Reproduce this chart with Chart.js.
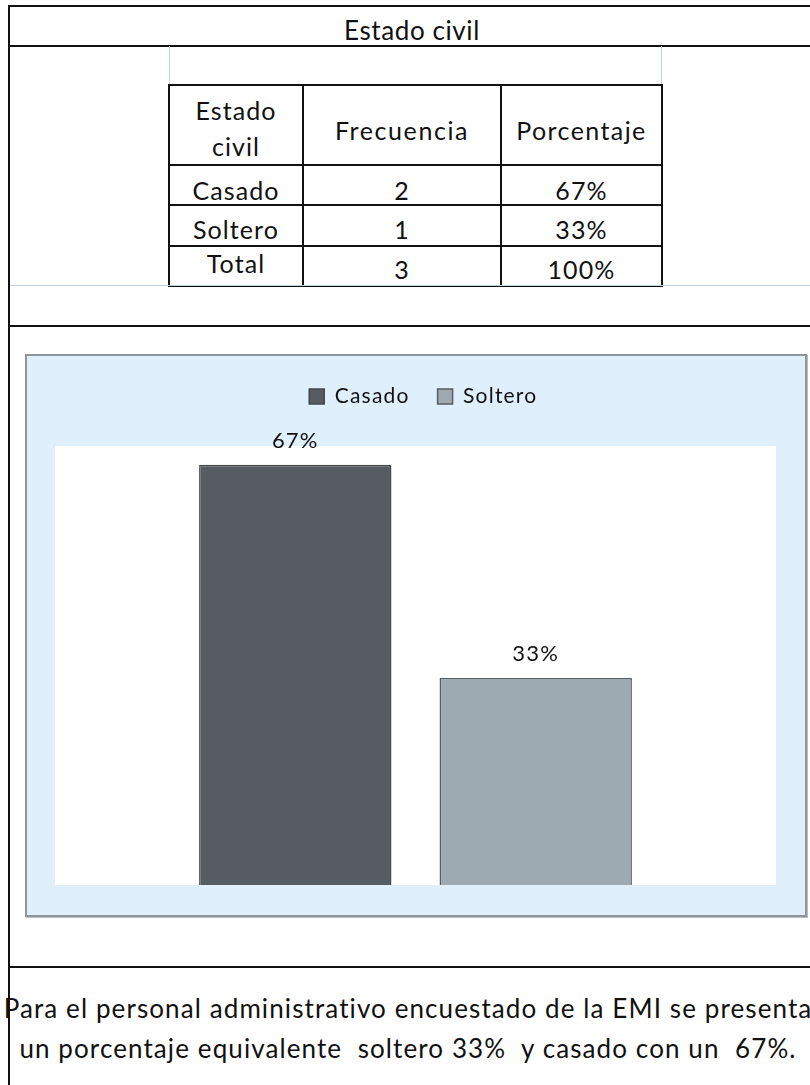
<!DOCTYPE html>
<html>
<head>
<meta charset="utf-8">
<script src="https://cdn.jsdelivr.net/npm/chart.js@4.4.1/dist/chart.umd.min.js"></script>
<style>
  html, body { margin:0; padding:0; background:#fff; width:810px; height:1085px; overflow:hidden; }
  body { position:relative; font-family: Lato, "Open Sans", sans-serif; color:#111; font-variant-ligatures:none; font-feature-settings:"liga" 0; }
  .abs { position:absolute; }
  .hline { position:absolute; height:2px; background:#111; }
  .vline { position:absolute; width:2px; background:#111; }
  #title { left:12px; width:800px; top:12px; text-align:center; font-size:26px; letter-spacing:0.6px; line-height:36px; }
  #gridbox { left:169px; top:46px; width:491px; height:39px; border-left:1px solid #c2d2e2; border-right:1px solid #c2d2e2; }
  #tbl { position:absolute; left:168px; top:84px; border-collapse:collapse; font-size:25px; letter-spacing:1.1px; }
  #tbl td { border:2px solid #111; text-align:center; padding:0; line-height:28px; overflow:hidden; }
  #chartbox { left:25px; top:354px; width:778px; height:559px; border:2px solid #8e959b; background:#dfeffc; box-shadow: 1px 1px 0 #b9bfc4; }
  #chartbox canvas { display:block; }
  .para { position:absolute; left:-197px; width:1210px; text-align:center; font-size:26px; letter-spacing:1.1px; white-space:pre; line-height:40px; }
</style>
</head>
<body>
<div class="vline" style="left:8px; top:5px; height:1080px;"></div>
<div class="hline" style="left:8px; top:5px; width:802px;"></div>
<div id="title" class="abs"></div>
<div class="hline" style="left:8px; top:45px; width:802px;"></div>
<div id="gridbox" class="abs"></div>
<table id="tbl"></table>
<div class="abs" style="left:10px; top:285px; width:800px; height:1px; background:#c2d2e2;"></div>
<div class="hline" style="left:8px; top:325px; width:802px;"></div>
<div id="chartbox" class="abs"><canvas id="c" width="778" height="559"></canvas></div>
<div class="hline" style="left:8px; top:966px; width:802px;"></div>
<div class="para" id="p1" style="top:988px;"></div>
<div class="para" id="p2" style="top:1028px;"></div>
<script>
// ---- data ----
const tableTitle = 'Estado civil';
const headers = ['Estado\ncivil', 'Frecuencia', 'Porcentaje'];
const categories = ['Casado', 'Soltero'];
const frequencies = [2, 1];
const percentages = [67, 33];
const totalLabel = 'Total';
const totalFrequency = 3;
const totalPercentage = 100;
const seriesColors = ['#565c62', '#9eaab2'];
const seriesBorders = ['#43484d', '#575d63'];
const paragraph = ['Para el personal administrativo encuestado de la EMI se presenta',
                   'un porcentaje equivalente  soltero 33%  y casado con un  67%.'];

// ---- table ----
document.getElementById('title').textContent = tableTitle;
const tbl = document.getElementById('tbl');
const colW = [134, 198, 161];
const rowH = [80, 40, 41, 40];
function addRow(cells, h, pads) {
  const tr = document.createElement('tr');
  cells.forEach((txt, i) => {
    const td = document.createElement('td');
    const [pt, pb] = pads[i];
    td.style.width = (colW[i] - 2) + 'px';
    td.style.height = (h - 2 - pt - pb) + 'px';
    td.style.paddingTop = pt + 'px';
    td.style.paddingBottom = pb + 'px';
    td.innerHTML = String(txt).replace('\n', '<br>');
    tr.appendChild(td);
  });
  tbl.appendChild(tr);
}
addRow(headers, rowH[0], [[6, 0], [10, 0], [10, 0]]);
addRow([categories[0], frequencies[0], percentages[0] + '%'], rowH[1], [[10, 0], [10, 0], [10, 0]]);
addRow([categories[1], frequencies[1], percentages[1] + '%'], rowH[2], [[7, 0], [7, 0], [7, 0]]);
addRow([totalLabel, totalFrequency, totalPercentage + '%'], rowH[3], [[0, 6], [6, 0], [6, 0]]);
tbl.rows[0].cells[0].style.lineHeight = '36px';
tbl.rows[0].cells[1].style.letterSpacing = '1.6px';
tbl.rows[0].cells[2].style.letterSpacing = '1.4px';
document.getElementById('p1').textContent = paragraph[0];
document.getElementById('p2').textContent = paragraph[1];

// ---- chart ----
const plotBg = {
  id: 'plotBg',
  beforeDraw(chart) {
    const a = chart.chartArea, ctx = chart.ctx;
    ctx.save(); ctx.fillStyle = '#ffffff';
    ctx.fillRect(a.left, a.top, a.right - a.left, a.bottom - a.top);
    ctx.restore();
  }
};
const spacing = {
  id: 'spacing',
  beforeInit(chart) { try { chart.ctx.letterSpacing = '1.2px'; } catch (e) {} },
  beforeDraw(chart) { try { chart.ctx.letterSpacing = '1.2px'; } catch (e) {} }
};
const valueLabels = {
  id: 'valueLabels',
  afterDatasetsDraw(chart) {
    const ctx = chart.ctx;
    ctx.save();
    ctx.font = '22px Lato';
    ctx.fillStyle = '#111';
    ctx.textAlign = 'center';
    ctx.textBaseline = 'middle';
    chart.data.datasets.forEach((ds, i) => {
      chart.getDatasetMeta(i).data.forEach((bar, j) => {
        ctx.fillText(ds.data[j] + '%', bar.x, bar.y - 24);
      });
    });
    ctx.restore();
  }
};
const legendGap = {
  id: 'legendGap',
  beforeInit(chart) {
    const origFit = chart.legend.fit;
    chart.legend.fit = function () { origFit.call(this); this.height += 29; };
  }
};

new Chart(document.getElementById('c'), {
  type: 'bar',
  data: {
    labels: [''],
    datasets: categories.map((c, i) => ({
      label: c,
      data: [percentages[i]],
      backgroundColor: seriesColors[i],
      borderColor: seriesBorders[i],
      borderWidth: 1.5,
      categoryPercentage: 0.667,
      barPercentage: 0.8
    }))
  },
  options: {
    responsive: false,
    animation: false,
    layout: { padding: { left: 28, right: 29, top: 2, bottom: 30 } },
    scales: {
      x: { display: false },
      y: { display: false, min: 0, max: 70 }
    },
    plugins: {
      tooltip: { enabled: false },
      legend: {
        position: 'top',
        labels: {
          font: { family: 'Lato', size: 21 },
          color: '#111',
          boxWidth: 15,
          boxHeight: 15,
          padding: 28
        }
      }
    }
  },
  plugins: [spacing, plotBg, valueLabels, legendGap]
});
</script>
</body>
</html>
